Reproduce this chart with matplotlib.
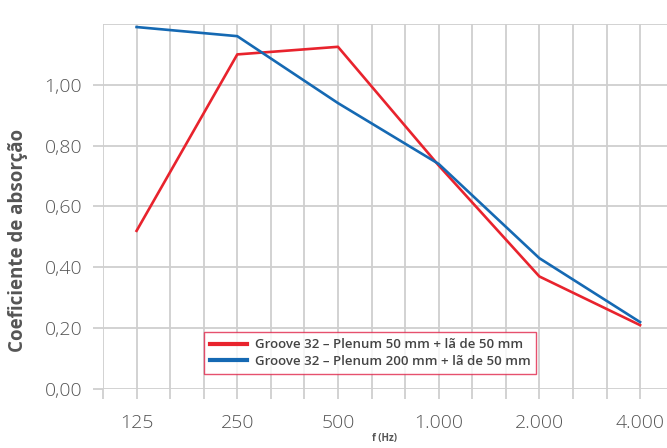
import matplotlib
matplotlib.use('Agg')
import matplotlib.pyplot as plt
import numpy as np

# octave band centres
freqs = ['125', '250', '500', '1.000', '2.000', '4.000']
red_vals = [0.52, 1.10, 1.125, 0.735, 0.37, 0.21]
blue_vals = [1.19, 1.16, 0.94, 0.74, 0.43, 0.22]
red_label = 'Groove 32 – Plenum 50 mm + lã de 50 mm'
blue_label = 'Groove 32 – Plenum 200 mm + lã de 50 mm'
yticks = [0.0, 0.2, 0.4, 0.6, 0.8, 1.0]

plt.rcParams['font.family'] = ['Open Sans', 'DejaVu Sans']
grid_c = '#cfcfcf'
text_c = '#555555'

fig = plt.figure(figsize=(6.67, 4.48), dpi=100)
ax = fig.add_axes([103 / 667, 59 / 448, 564 / 667, 365 / 448])

x = np.arange(len(freqs))
ax.plot(x, red_vals, color='#e8232d', lw=1.9, label=red_label, zorder=3)
ax.plot(x, blue_vals, color='#1569b3', lw=1.9, label=blue_label, zorder=3)

ax.set_xlim(-1 / 3, -1 / 3 + 564 / 100.7)
ax.set_ylim(0, 1.2)

ax.set_xticks(x)
ax.set_xticklabels(freqs)
ax.set_xticks(np.arange(-1, 16) / 3, minor=True)
ax.set_yticks(yticks)
ax.set_yticklabels([f'{v:.2f}'.replace('.', ',') for v in yticks])
ax.set_yticks([1.2], minor=True)

ax.grid(True, which='both', color=grid_c, lw=1.3, zorder=0)
ax.tick_params(axis='x', which='both', length=7, width=1.3, color=grid_c,
               pad=11, labelsize=14, labelcolor=text_c)
ax.tick_params(axis='y', which='major', length=7, width=1.3, color=grid_c,
               pad=8, labelsize=14, labelcolor=text_c)
ax.tick_params(axis='y', which='minor', length=0)
for lbl in ax.get_xticklabels() + ax.get_yticklabels():
    lbl.set_fontweight('light')
for s in ax.spines.values():
    s.set_visible(False)

ax.set_xlabel('f (Hz)', fontsize=7, fontweight='bold', color=text_c, labelpad=1)
fig.text(18 / 667, 1 - 240 / 448, 'Coeficiente de absorção', rotation=90,
         ha='center', va='center', fontsize=13.5, fontweight='bold', color=text_c)

leg = ax.legend(loc='lower left', bbox_to_anchor=(0.179, 0.041), fontsize=9.5,
                frameon=True, fancybox=False, handlelength=2.8, borderpad=0.45,
                labelspacing=0.3, handletextpad=0.6, borderaxespad=0)
leg.get_frame().set_edgecolor('#e0254a')
leg.get_frame().set_linewidth(1.0)
for t in leg.get_texts():
    t.set_color('#444444')
    t.set_fontweight('semibold')
for h in leg.legend_handles:
    h.set_linewidth(3)

fig.savefig('out.png', dpi=100)
